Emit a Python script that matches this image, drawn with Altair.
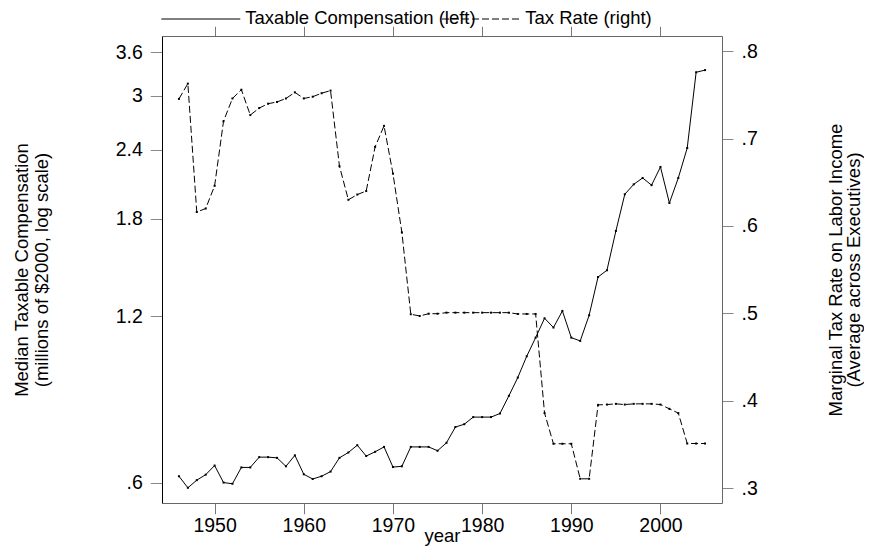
import altair as alt
import pandas as pd

years = [1946, 1947, 1948, 1949, 1950, 1951, 1952, 1953, 1954, 1955,
         1956, 1957, 1958, 1959, 1960, 1961, 1962, 1963, 1964, 1965,
         1966, 1967, 1968, 1969, 1970, 1971, 1972, 1973, 1974, 1975,
         1976, 1977, 1978, 1979, 1980, 1981, 1982, 1983, 1984, 1985,
         1986, 1987, 1988, 1989, 1990, 1991, 1992, 1993, 1994, 1995,
         1996, 1997, 1998, 1999, 2000, 2001, 2002, 2003, 2004, 2005]

compensation = [0.617, 0.588, 0.607, 0.621, 0.645, 0.601, 0.598, 0.640, 0.640, 0.668,
                0.668, 0.666, 0.643, 0.673, 0.622, 0.610, 0.617, 0.629, 0.666, 0.681,
                0.702, 0.671, 0.683, 0.697, 0.641, 0.643, 0.697, 0.697, 0.697, 0.686,
                0.709, 0.757, 0.766, 0.789, 0.789, 0.789, 0.801, 0.862, 0.930, 1.016,
                1.098, 1.190, 1.145, 1.227, 1.098, 1.083, 1.205, 1.413, 1.453, 1.711,
                1.993, 2.077, 2.133, 2.070, 2.233, 1.922, 2.133, 2.416, 3.310, 3.340]

tax_rate = [0.7455, 0.763, 0.616, 0.620, 0.646, 0.720, 0.746, 0.756, 0.727, 0.735,
            0.740, 0.742, 0.746, 0.753, 0.746, 0.748, 0.752, 0.755, 0.6685, 0.630,
            0.636, 0.640, 0.6906, 0.7146, 0.660, 0.5927, 0.499, 0.497, 0.4996, 0.4996,
            0.5008, 0.5008, 0.5008, 0.5008, 0.5008, 0.5008, 0.5008, 0.5008, 0.4993, 0.4993,
            0.4993, 0.3858, 0.3507, 0.3507, 0.3507, 0.3106, 0.3106, 0.3952, 0.3956, 0.3964,
            0.3956, 0.3964, 0.3964, 0.3964, 0.3956, 0.3907, 0.3858, 0.351, 0.351, 0.351]

x_ticks = [1950, 1960, 1970, 1980, 1990, 2000]
left_ticks = [0.6, 1.2, 1.8, 2.4, 3.0, 3.6]
right_ticks = [0.3, 0.4, 0.5, 0.6, 0.7, 0.8]
legend_labels = ["Taxable Compensation (left)", "Tax Rate (right)"]
left_title = ["Median Taxable Compensation", "(millions of $2000, log scale)"]
right_title = ["Marginal Tax Rate on Labor Income", "(Average across Executives)"]

df = pd.DataFrame({"year": years, "comp": compensation, "rate": tax_rate})
one = pd.DataFrame({"k": [0]})

FONT = "Liberation Sans"
FS = 18.5
LFS = 19.5
W, H = 560, 467

x_scale = alt.Scale(domain=[1944.1, 2006.9], nice=False, zero=False)

x_bottom = alt.Axis(values=x_ticks, format="d", title="year", orient="bottom",
                    tickSize=10.7, tickColor="#777", domainColor="#666",
                    labelPadding=3, titleX=W / 2, titleY=38, titleBaseline="alphabetic")
x_top = alt.Axis(values=x_ticks, labels=False, title=None, orient="top",
                 tickSize=9.7, tickColor="#777", domainColor="#666")

comp_line = alt.Chart(df).mark_line(
    color="black", strokeWidth=1,
    point=alt.OverlayMarkDef(shape="square", size=4, filled=True, color="black"),
).encode(
    x=alt.X("year:Q", scale=x_scale, axis=x_bottom),
    y=alt.Y("comp:Q",
            scale=alt.Scale(type="log", domain=[0.552, 3.849], nice=False),
            axis=alt.Axis(values=left_ticks, orient="left", tickSize=11.7,
                          tickColor="#888", domainColor="black", labelPadding=8,
                          labelExpr="datum.value < 1 ? '.' + format(datum.value * 10, 'd') : format(datum.value, '~g')",
                          title=left_title, titleAngle=270, titleX=-140.7, titleY=H / 2,
                          titleAlign="center", titleBaseline="middle", titleLineHeight=20)),
)

rate_line = alt.Chart(df).mark_line(
    color="black", strokeWidth=1, strokeDash=[7, 3],
    point=alt.OverlayMarkDef(shape="square", size=4, filled=True, color="black"),
).encode(
    x=alt.X("year:Q", scale=x_scale, axis=x_top),
    y=alt.Y("rate:Q",
            scale=alt.Scale(domain=[0.2829, 0.8175], nice=False, zero=False),
            axis=alt.Axis(values=right_ticks, orient="right", tickSize=11,
                          tickColor="#888", domainColor="#666", labelPadding=8,
                          labelExpr="'.' + format(datum.value * 10, 'd')",
                          title=right_title, titleAngle=270, titleX=113, titleY=H / 2,
                          titleAlign="center", titleBaseline="middle", titleLineHeight=18)),
)

leg_solid = alt.Chart(one).mark_rule(color="black", strokeWidth=1).encode(
    x=alt.value(-0.7), x2=alt.value(78.3), y=alt.value(-17))
leg_text1 = alt.Chart(one).mark_text(
    font=FONT, fontSize=FS, align="left", baseline="alphabetic", color="black"
).encode(x=alt.value(83.3), y=alt.value(-12), text=alt.value(legend_labels[0]))
leg_dash = alt.Chart(one).mark_rule(color="black", strokeWidth=1, strokeDash=[7, 3]).encode(
    x=alt.value(280), x2=alt.value(358.3), y=alt.value(-17))
leg_text2 = alt.Chart(one).mark_text(
    font=FONT, fontSize=FS, align="left", baseline="alphabetic", color="black"
).encode(x=alt.value(363.3), y=alt.value(-12), text=alt.value(legend_labels[1]))

chart = alt.layer(
    comp_line, rate_line, leg_solid, leg_text1, leg_dash, leg_text2
).resolve_scale(
    y="independent"
).resolve_axis(
    x="independent", y="independent"
).properties(
    width=W, height=H,
    autosize=alt.AutoSizeParams(type="none"),
    padding={"left": 154, "top": 28, "right": 142, "bottom": 43},
    background="white",
).configure_view(
    strokeWidth=0
).configure_axis(
    labelFont=FONT, labelFontSize=LFS, labelColor="black",
    titleFont=FONT, titleFontSize=FS, titleFontWeight="normal", titleColor="black",
    grid=False, domainWidth=1, tickWidth=1,
)

chart.save("out.html", embed_options={"renderer": "svg", "actions": False})
